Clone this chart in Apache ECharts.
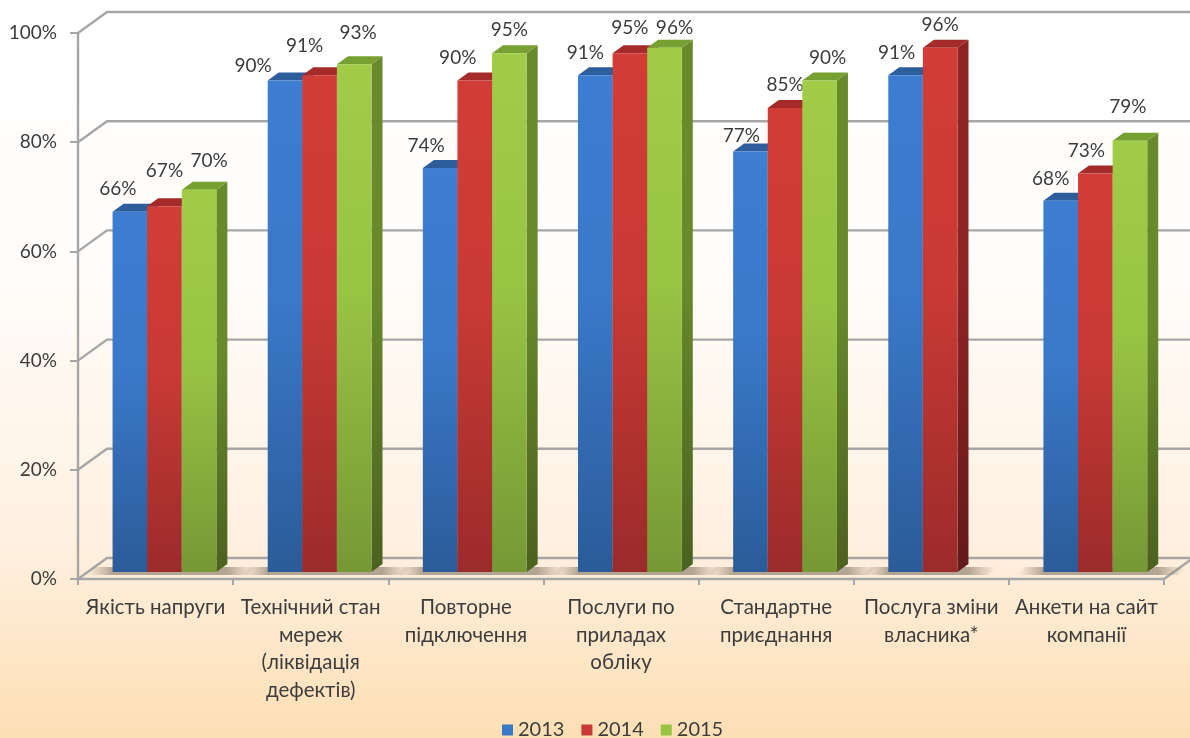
<!DOCTYPE html>
<html>
<head>
<meta charset="utf-8">
<style>html,body{margin:0;padding:0;background:#fff}#c{width:1190px;height:738px}</style>
<script src="https://cdn.jsdelivr.net/npm/echarts@6/dist/echarts.min.js"></script>
</head>
<body>
<div id="c"></div>
<script>
const categories = ['Якість напруги', 'Технічний стан\nмереж\n(ліквідація\nдефектів)', 'Повторне\nпідключення', 'Послуги по\nприладах\nобліку', 'Стандартне\nприєднання', 'Послуга зміни\nвласника*', 'Анкети на сайт\nкомпанії'];
const years = ['2013', '2014', '2015'];
const values2013 = [66, 90, 74, 91, 77, 91, 68];
const values2014 = [67, 91, 90, 95, 85, 96, 73];
const values2015 = [70, 93, 95, 96, 90, null, 79];
const yTicks = [0, 20, 40, 60, 80, 100];

// hand placement of the data labels, [dx, dy] from the top centre of each bar
const labelNudge2013 = [[-12,-23],[-32,-15],[-14,-22],[-10,-22],[-9,-16],[-9,-22],[-10,-22]];
const labelNudge2014 = [[0,-35],[-15,-29],[-17,-23],[0,-25],[0,-23],[0,-23],[-9,-23]];
const labelNudge2015 = [[10,-29],[4,-31],[0,-23],[10,-20],[8,-23],[0,0],[-2,-34]];

const FONT = 'Lato, "Open Sans", sans-serif';
const TEXT = '#3c3c3c', GRID = '#a6a6a6';
const BAR_W = 34.6, DX = 11, DY = 8, FRONT_X = 8.9, FRONT_Y = 7, WALL_X = 29, WALL_Y = 21;

const palette = [
  {front: ['#3d7ed2', '#3a78c8', '#2b5c99'], top: '#2d5e9b', side: ['#2d5e9b', '#1f4470']},
  {front: ['#d23c36', '#c93a34', '#9b2b2b'], top: '#a42b29', side: ['#8e2423', '#621a1a']},
  {front: ['#a0cc48', '#98c444', '#769835'], top: '#76a031', side: ['#688a2b', '#4b6120']}
];
const grad = (a, b, c) => ({type: 'linear', x: 0, y: 0, x2: 0, y2: 1, colorStops: [
  {offset: 0, color: a}, {offset: 0.45, color: b}, {offset: 1, color: c}]});

function barSeries(idx, values, nudges) {
  const p = palette[idx];
  return {
    name: years[idx], type: 'custom', z: 3 + idx, clip: false,
    itemStyle: {color: p.front[1]},
    encode: {x: 0, y: 1},
    data: values.map((v, i) => [i, v]),
    renderItem(params, api) {
      const v = api.value(1);
      if (isNaN(v)) return null;
      const i = api.value(0);
      const c = api.coord([i, v]), b = api.coord([i, 0]);
      const x0 = c[0] + FRONT_X - 1.5 * BAR_W + idx * BAR_W, x1 = x0 + BAR_W;
      const yt = c[1] - FRONT_Y, yb = b[1] - FRONT_Y;
      const n = nudges[i];
      return {type: 'group', children: [
        {type: 'polygon', shape: {points: [[x1, yt], [x1 + DX, yt - DY], [x1 + DX, yb - DY], [x1, yb]]}, style: {fill: grad(p.side[0], p.side[0], p.side[1])}},
        {type: 'polygon', shape: {points: [[x0, yt], [x0 + DX, yt - DY], [x1 + DX, yt - DY], [x1, yt]]}, style: {fill: p.top}},
        {type: 'rect', shape: {x: x0, y: yt, width: BAR_W, height: yb - yt}, style: {fill: grad(p.front[0], p.front[1], p.front[2])}},
        {type: 'text', z2: 50, style: {text: Math.round(v) + '%', x: (x0 + x1) / 2 + n[0], y: yt + n[1], textAlign: 'center', textVerticalAlign: 'middle', font: '19px ' + FONT, fill: TEXT}}
      ]};
    }
  };
}

const wallSeries = {
  type: 'custom', z: 1, clip: false, silent: true, tooltip: {show: false},
  encode: {y: 0},
  data: yTicks.map(v => [v]),
  renderItem(params, api) {
    const v = api.value(0);
    const s = params.coordSys;
    const y = api.coord([0, v])[1];
    const pts = [[s.x, y], [s.x + WALL_X, y - WALL_Y], [s.x + s.width + WALL_X, y - WALL_Y]];
    const line = {type: 'polyline', shape: {points: pts}, style: {fill: null, stroke: GRID, lineWidth: 2.4}};
    if (v !== 0) return line;
    return {type: 'group', children: [line,
      {type: 'line', shape: {x1: s.x + s.width, y1: y, x2: s.x + s.width + WALL_X, y2: y - WALL_Y}, style: {stroke: GRID, lineWidth: 2.4}}]};
  }
};

const shadowSeries = {
  type: 'custom', z: 2, clip: false, silent: true, tooltip: {show: false},
  encode: {x: 0},
  data: categories.map((c, i) => [i, values2015[i] == null ? 2 : 3]),
  renderItem(params, api) {
    const i = api.value(0), n = api.value(1);
    const b = api.coord([i, 0]);
    const xa = b[0] + FRONT_X - 1.5 * BAR_W, xb = xa + n * BAR_W + DX;
    const l = xa - 26, r = xb + 20, yb = b[1] - 4, yt = b[1] - 12;
    const w = r - l + 8;
    return {type: 'polygon', shape: {points: [[l, yb], [l + 8, yt], [r + 8, yt], [r, yb]]},
      style: {fill: {type: 'linear', x: 0, y: 0, x2: 1, y2: 0, colorStops: [
        {offset: 0, color: 'rgba(150,135,115,0)'},
        {offset: (xa - l) / w, color: 'rgba(130,115,100,0.6)'},
        {offset: (xb - l) / w, color: 'rgba(130,115,100,0.6)'},
        {offset: 1, color: 'rgba(150,135,115,0)'}]}}};
  }
};

const chart = echarts.init(document.getElementById('c'), null, {renderer: 'canvas'});
chart.setOption({
  animation: false,
  backgroundColor: {type: 'linear', x: 0, y: 0, x2: 0, y2: 1, colorStops: [
    {offset: 0, color: '#ffffff'}, {offset: 0.35, color: '#fffdfb'}, {offset: 0.72, color: '#fff1e2'}, {offset: 1, color: '#fddfb4'}]},
  textStyle: {fontFamily: FONT},
  grid: {left: 78, right: 26, top: 33, bottom: 159, containLabel: false},
  legend: {
    data: years, top: 715, left: 497, icon: 'rect', itemWidth: 11, itemHeight: 11, itemGap: 17,
    textStyle: {fontSize: 20, color: TEXT, fontFamily: FONT}
  },
  xAxis: {
    type: 'category', data: categories,
    axisLine: {lineStyle: {color: GRID, width: 2.4}},
    axisTick: {show: true, length: 6, lineStyle: {color: GRID, width: 2}},
    axisLabel: {interval: 0, color: TEXT, fontSize: 20.5, lineHeight: 27.5, margin: 15, fontFamily: FONT},
    splitLine: {show: false}
  },
  yAxis: {
    type: 'value', min: 0, max: 100, interval: 20,
    axisLine: {show: true, lineStyle: {color: GRID, width: 2.4}},
    axisTick: {show: true, length: 8, lineStyle: {color: GRID, width: 2}},
    axisLabel: {color: TEXT, fontSize: 19, margin: 21, formatter: '{value}%', fontFamily: FONT, padding: [8, 0, 0, 0]},
    splitLine: {show: false}
  },
  series: [wallSeries, shadowSeries,
    barSeries(0, values2013, labelNudge2013),
    barSeries(1, values2014, labelNudge2014),
    barSeries(2, values2015, labelNudge2015)]
});
</script>
</body>
</html>
